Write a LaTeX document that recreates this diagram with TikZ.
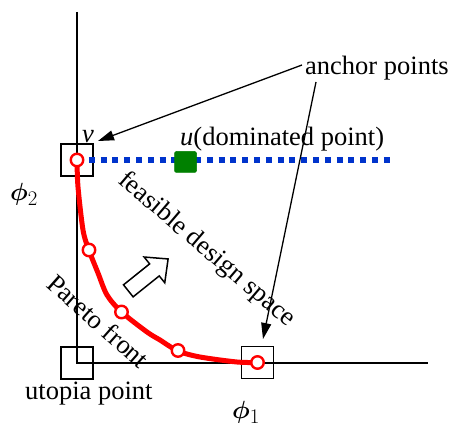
\documentclass[tikz,border=0pt]{standalone}
\usepackage{bm}
\usepackage{fontspec}
\setmainfont{Liberation Serif}
\usetikzlibrary{arrows.meta}
\definecolor{dotblue}{RGB}{0,51,204}
\definecolor{domgreen}{RGB}{0,128,0}
\begin{document}
\begin{tikzpicture}[x=1pt,y=1pt,
  lbl/.style={font=\fontsize{26.5}{30}\selectfont, inner sep=0pt},
  philbl/.style={font=\fontsize{28}{30}\selectfont, inner sep=0pt},
  axisline/.style={line width=1.8pt},
  markbox/.style={draw, line width=1.7pt, minimum size=32pt, inner sep=0pt},
  frontpt/.style={circle, draw=red, line width=2.4pt, fill=white, minimum size=12.5pt, inner sep=0pt},
  frontline/.style={red, line width=5pt, line join=round, line cap=round},
  dotline/.style={dotblue, line width=6pt, dash pattern=on 6pt off 5.8pt},
  callout/.style={line width=1.3pt, -{Triangle[length=16pt,width=10pt]}},
  hollow/.style={draw, line width=1.5pt, fill=white, line join=miter},
]
\useasboundingbox (0,0) rectangle (450,426);

% axes
\coordinate (O) at (77,63);
\coordinate (ytop) at (77,414);
\coordinate (xend) at (428,63);
\draw[axisline] (ytop) -- (O) -- (xend);

% marker boxes
\node[markbox] (utopia) at (77,63) {};
\node[markbox] (vbox) at (77,266) {};
\node[markbox] (abox) at (257.5,63.5) {};

% dominated line and point
\coordinate (dotstart) at (77,266);
\coordinate (dotend) at (395,266);
\draw[dotline] (dotstart) -- (dotend);
\node[draw=domgreen, fill=domgreen, rounded corners=2pt, minimum width=22pt, minimum height=21pt, inner sep=0pt, line width=0.5pt] (u) at (185.5,264) {};

% Pareto front
\draw[frontline] plot[smooth, tension=0.5] coordinates {(77,266) (78,239) (83,196) (88.5,177) (98,153) (107,131) (121.5,114) (147,94) (160,86) (178,75) (200,69) (237,64) (257.5,63.5)};
\node[frontpt] (p0) at (77,266) {};
\node[frontpt] (p1) at (89,176) {};
\node[frontpt] (p2) at (121.5,114) {};
\node[frontpt] (p3) at (178,75.5) {};
\node[frontpt] (p4) at (257.5,63.5) {};

% labels
\node[lbl, anchor=base west] (anchor) at (305,351) {anchor points};
\node[lbl, anchor=base] (vlab) at (88,283) {\textit{v}};
\node[lbl, anchor=base west] (ulab) at (180,280) {\textit{u}(dominated point)};
\node[lbl, anchor=base west] (utext) at (25,27) {utopia point};
\node[lbl, anchor=base west, rotate=-40.5] (feas) at (117,244) {feasible design space};
\node[lbl, anchor=base west, rotate=-41.5] (pareto) at (45,140) {Pareto front};
\node[philbl] (phi2) at (24,232) {$\bm{\phi}_2$};
\node[philbl] (phi1) at (246,14) {$\bm{\phi}_1$};

% callout arrows
\coordinate (c1s) at (302,361);
\coordinate (c1e) at (98,285);
\coordinate (c2s) at (316,344);
\coordinate (c2e) at (263,87);
\draw[callout] (c1s) -- (c1e);
\draw[callout] (c2s) -- (c2e);

% hollow direction arrow
\begin{scope}[shift={(148.2,151.1)}, rotate=38.7]
  \draw[hollow] (-25.5,-7.7) -- (8,-7.7) -- (8,-16.5) -- (25.5,0) -- (8,16.5) -- (8,7.7) -- (-25.5,7.7) -- cycle;
\end{scope}
\end{tikzpicture}
\end{document}
